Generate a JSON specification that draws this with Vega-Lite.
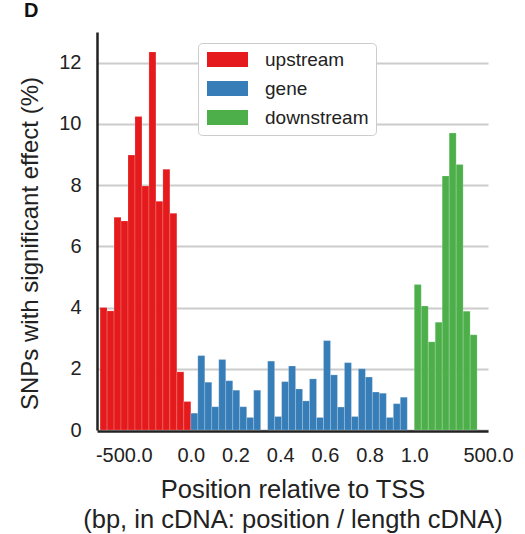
{
  "$schema": "https://vega.github.io/schema/vega-lite/v6.json",
  "width": 391,
  "height": 398,
  "autosize": {"type": "none"},
  "padding": {"left": 97, "top": 32, "right": 37, "bottom": 104},
  "background": "white",
  "title": {
    "text": "D",
    "anchor": "start",
    "frame": "group",
    "orient": "top",
    "dx": -73,
    "offset": 11,
    "fontSize": 20,
    "fontWeight": "bold",
    "font": "Liberation Sans",
    "color": "#111111"
  },
  "data": {
    "values": [
      {"region": "upstream", "start": -0.40625, "end": -0.375, "pct": 4.0},
      {"region": "upstream", "start": -0.375, "end": -0.34375, "pct": 3.89},
      {"region": "upstream", "start": -0.34375, "end": -0.3125, "pct": 6.95},
      {"region": "upstream", "start": -0.3125, "end": -0.28125, "pct": 6.83},
      {"region": "upstream", "start": -0.28125, "end": -0.25, "pct": 8.98},
      {"region": "upstream", "start": -0.25, "end": -0.21875, "pct": 10.24},
      {"region": "upstream", "start": -0.21875, "end": -0.1875, "pct": 7.97},
      {"region": "upstream", "start": -0.1875, "end": -0.15625, "pct": 12.35},
      {"region": "upstream", "start": -0.15625, "end": -0.125, "pct": 7.47},
      {"region": "upstream", "start": -0.125, "end": -0.09375, "pct": 8.52},
      {"region": "upstream", "start": -0.09375, "end": -0.0625, "pct": 7.08},
      {"region": "upstream", "start": -0.0625, "end": -0.03125, "pct": 1.9},
      {"region": "upstream", "start": -0.03125, "end": 0.0, "pct": 0.93},
      {"region": "gene", "start": 0.0, "end": 0.03125, "pct": 0.55},
      {"region": "gene", "start": 0.03125, "end": 0.0625, "pct": 2.43},
      {"region": "gene", "start": 0.0625, "end": 0.09375, "pct": 1.56},
      {"region": "gene", "start": 0.09375, "end": 0.125, "pct": 0.76},
      {"region": "gene", "start": 0.125, "end": 0.15625, "pct": 2.3},
      {"region": "gene", "start": 0.15625, "end": 0.1875, "pct": 1.61},
      {"region": "gene", "start": 0.1875, "end": 0.21875, "pct": 1.3},
      {"region": "gene", "start": 0.21875, "end": 0.25, "pct": 0.76},
      {"region": "gene", "start": 0.25, "end": 0.28125, "pct": 0.41},
      {"region": "gene", "start": 0.28125, "end": 0.3125, "pct": 1.3},
      {"region": "gene", "start": 0.34375, "end": 0.375, "pct": 2.25},
      {"region": "gene", "start": 0.375, "end": 0.40625, "pct": 0.44},
      {"region": "gene", "start": 0.40625, "end": 0.4375, "pct": 1.58},
      {"region": "gene", "start": 0.4375, "end": 0.46875, "pct": 2.09},
      {"region": "gene", "start": 0.46875, "end": 0.5, "pct": 1.34},
      {"region": "gene", "start": 0.5, "end": 0.53125, "pct": 0.95},
      {"region": "gene", "start": 0.53125, "end": 0.5625, "pct": 1.67},
      {"region": "gene", "start": 0.5625, "end": 0.59375, "pct": 0.41},
      {"region": "gene", "start": 0.59375, "end": 0.625, "pct": 2.92},
      {"region": "gene", "start": 0.625, "end": 0.65625, "pct": 1.8},
      {"region": "gene", "start": 0.65625, "end": 0.6875, "pct": 0.75},
      {"region": "gene", "start": 0.6875, "end": 0.71875, "pct": 2.2},
      {"region": "gene", "start": 0.71875, "end": 0.75, "pct": 0.44},
      {"region": "gene", "start": 0.75, "end": 0.78125, "pct": 2.0},
      {"region": "gene", "start": 0.78125, "end": 0.8125, "pct": 1.73},
      {"region": "gene", "start": 0.8125, "end": 0.84375, "pct": 1.24},
      {"region": "gene", "start": 0.84375, "end": 0.875, "pct": 1.2},
      {"region": "gene", "start": 0.875, "end": 0.90625, "pct": 0.41},
      {"region": "gene", "start": 0.90625, "end": 0.9375, "pct": 0.86},
      {"region": "gene", "start": 0.9375, "end": 0.96875, "pct": 1.07},
      {"region": "downstream", "start": 1.0, "end": 1.03125, "pct": 4.75},
      {"region": "downstream", "start": 1.03125, "end": 1.0625, "pct": 4.05},
      {"region": "downstream", "start": 1.0625, "end": 1.09375, "pct": 2.88},
      {"region": "downstream", "start": 1.09375, "end": 1.125, "pct": 3.52},
      {"region": "downstream", "start": 1.125, "end": 1.15625, "pct": 8.3},
      {"region": "downstream", "start": 1.15625, "end": 1.1875, "pct": 9.7},
      {"region": "downstream", "start": 1.1875, "end": 1.21875, "pct": 8.67},
      {"region": "downstream", "start": 1.21875, "end": 1.25, "pct": 3.88},
      {"region": "downstream", "start": 1.25, "end": 1.28125, "pct": 3.11}
    ]
  },
  "mark": {"type": "rect", "stroke": "white", "strokeWidth": 0.6, "strokeOpacity": 0.3},
  "encoding": {
    "x": {
      "field": "start",
      "type": "quantitative",
      "scale": {"domain": [-0.42, 1.33], "nice": false, "zero": false},
      "axis": {
        "values": [-0.3, 0, 0.2, 0.4, 0.6, 0.8, 1.0, 1.33],
        "labelExpr": "datum.value < -0.1 ? '-500.0' : (datum.value > 1.1 ? '500.0' : format(datum.value, '.1f'))",
        "title": ["Position relative to TSS", "(bp, in cDNA: position / length cDNA)"],
        "ticks": false,
        "grid": false,
        "offset": 1,
        "labelPadding": 14,
        "labelFlush": false,
        "labelOverlap": false,
        "titlePadding": 12,
        "titleFontSize": 25.5,
        "titleLineHeight": 30,
        "titleLimit": 1000
      }
    },
    "x2": {"field": "end"},
    "y": {
      "field": "pct",
      "type": "quantitative",
      "scale": {"domain": [0, 13], "nice": false},
      "axis": {
        "values": [0, 2, 4, 6, 8, 10, 12],
        "title": "SNPs with significant effect (%)",
        "ticks": false,
        "grid": true,
        "labelPadding": 16,
        "titleX": -55,
        "titleY": 211,
        "titleAngle": 270,
        "titleAlign": "center",
        "titleBaseline": "bottom",
        "titleLimit": 1000
      }
    },
    "y2": {"datum": 0},
    "color": {
      "field": "region",
      "type": "nominal",
      "scale": {
        "domain": ["upstream", "gene", "downstream"],
        "range": ["#e41a1c", "#377eb8", "#4daf4a"]
      },
      "legend": {
        "title": null,
        "orient": "none",
        "legendX": 101,
        "legendY": 11,
        "symbolType": "M-2.733,-1L2.733,-1L2.733,1L-2.733,1Z",
        "symbolSize": 225,
        "symbolStrokeWidth": 0,
        "symbolOffset": 13,
        "labelOffset": 28,
        "rowPadding": 9,
        "padding": 7,
        "fillColor": "white",
        "strokeColor": "#cccccc",
        "cornerRadius": 4
      }
    }
  },
  "config": {
    "view": {"stroke": null},
    "font": "Liberation Sans",
    "axis": {
      "domainColor": "#222222",
      "domainWidth": 2.5,
      "gridColor": "#cccccc",
      "gridWidth": 2,
      "labelFont": "Liberation Sans",
      "labelFontSize": 20,
      "labelColor": "#222222",
      "titleFont": "Liberation Sans",
      "titleFontSize": 24,
      "titleFontWeight": "normal",
      "titleColor": "#222222"
    },
    "legend": {
      "labelFont": "Liberation Sans",
      "labelFontSize": 19,
      "labelColor": "#222222"
    }
  }
}
